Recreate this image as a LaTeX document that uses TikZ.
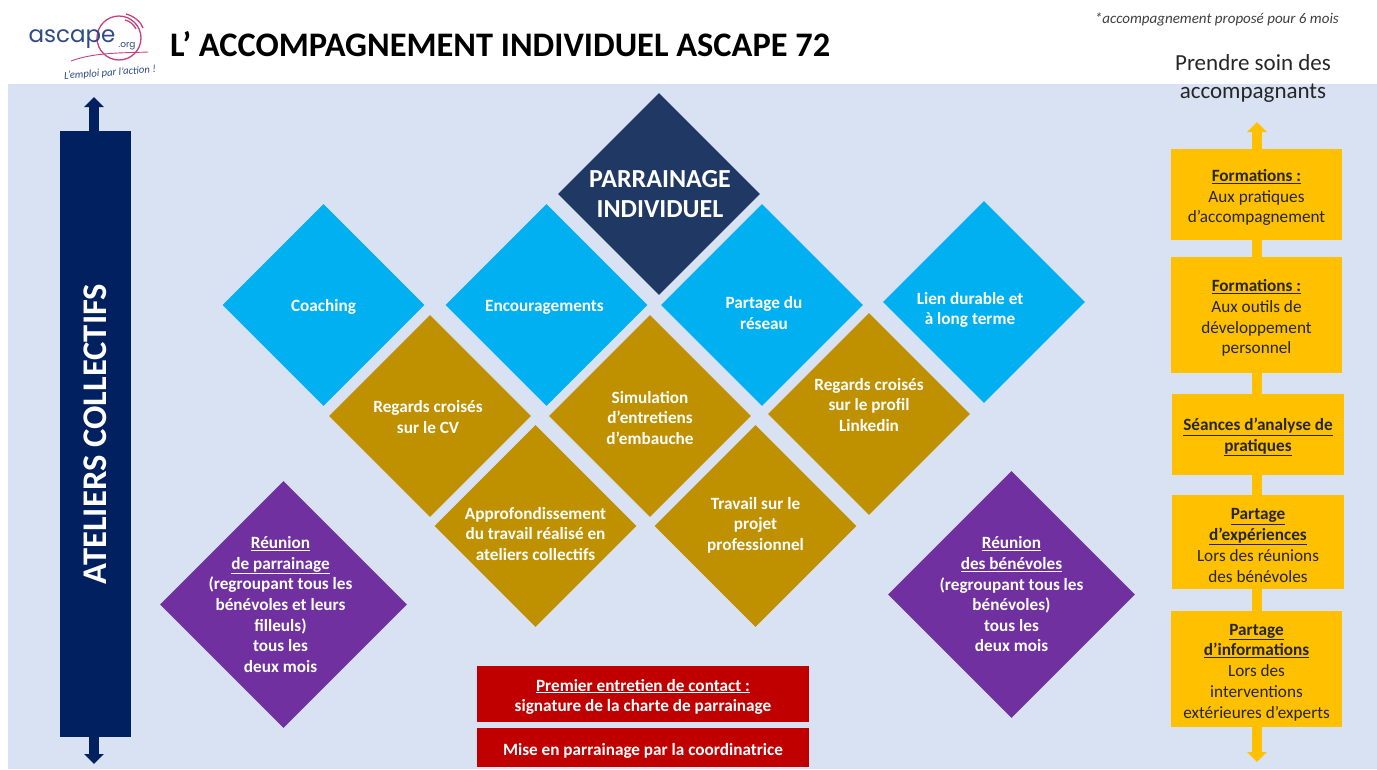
\documentclass[tikz,border=0pt]{standalone}
\usepackage{fontspec}
\setmainfont{Carlito}
\newfontfamily\logofont{Poppins}
\usetikzlibrary{arrows.meta,shapes.geometric}
\definecolor{bgblue}{HTML}{D9E2F3}
\definecolor{navybar}{HTML}{002060}
\definecolor{navydia}{HTML}{1F3864}
\definecolor{cyandia}{HTML}{00B0F0}
\definecolor{golddia}{HTML}{BF9000}
\definecolor{purpledia}{HTML}{7030A0}
\definecolor{redbox}{HTML}{C00000}
\definecolor{yellowbox}{HTML}{FFC000}
\definecolor{logoblue}{HTML}{2F4B85}
\definecolor{logopink}{HTML}{C8417F}
\newcommand{\topgap}{\rule{0pt}{18pt}}
\tikzset{
  x=1pt,y=-1pt,
  basefont/.style={font=\fontsize{17.2}{20.8}\selectfont},
  diabase/.style={diamond,inner sep=0pt,minimum width=202pt,minimum height=202pt,aspect=1},
  lab/.style={align=center,text=white,inner sep=0pt,font=\fontsize{17.2}{20.6}\selectfont\bfseries},
  biglab/.style={align=center,text=white,inner sep=0pt,font=\fontsize{26}{30}\selectfont\bfseries},
  cyanD/.style={diabase,fill=cyandia},
  goldD/.style={diabase,fill=golddia},
  purpleD/.style={diabase,fill=purpledia,minimum width=247pt,minimum height=247pt},
  navyD/.style={diabase,fill=navydia},
  ybox/.style={rectangle,fill=yellowbox,inner sep=0pt,align=center,text=black!85,minimum width=171pt,basefont},
  rbox/.style={rectangle,fill=redbox,inner sep=0pt,align=center,text=white,minimum width=332pt,font=\fontsize{17.2}{20.8}\selectfont\bfseries},
  navyshaft/.style={line width=10pt,draw=navybar,-{Triangle[width=19pt,length=10pt]}},
  yshaft/.style={line width=10pt,draw=yellowbox},
  yarrow/.style={yshaft,-{Triangle[width=19pt,length=10pt]}},
}
\newcommand{\dianode}[6]{\node[#2,label={[lab,xshift=#4pt,yshift=#5pt]center:{#6}}] (#1) at (#3) {};}
\begin{document}
\begin{tikzpicture}
\useasboundingbox (0,0) rectangle (1377,769);
\fill[white] (0,0) rectangle (1377,769);
\fill[bgblue] (8,84) rectangle (1377,769);

% logo
\draw[logopink,line width=1.3pt] (119,38) circle[radius=22pt];
\draw[logopink,line width=1.3pt] (126,14) .. controls (134,16) and (141,22) .. (143,28);
\draw[logopink,line width=1.3pt] (125,20) .. controls (130,21) and (134,25) .. (136,29);
\draw[logopink,line width=0.9pt] (71,61) .. controls (95,52) and (125,53) .. (148,52);
\node[text=logoblue,inner sep=0pt,font=\logofont\fontsize{23}{23}\selectfont] (logoname) at (72,39) {ascape};
\node[text=logoblue,inner sep=0pt,font=\logofont\fontsize{9}{9}\selectfont] (logoorg) at (127,46) {.org};
\node[text=logoblue,inner sep=0pt,rotate=4,font=\itshape\fontsize{10.7}{11}\selectfont] (logotag) at (110,73) {L’emploi par l’action !};

% header
\node[anchor=west,inner sep=0pt,text=black,font=\bfseries\fontsize{34.4}{35}\selectfont] (title) at (170,44) {L’ ACCOMPAGNEMENT INDIVIDUEL ASCAPE 72};
\node[anchor=east,inner sep=0pt,text=black!75,font=\itshape\fontsize{15}{15}\selectfont] (note) at (1339,19) {*accompagnement proposé pour 6 mois};
\node[inner sep=0pt,align=center,text=black!85,font=\fontsize{23}{28}\selectfont] (care) at (1253,78) {Prendre soin des\\accompagnants};

% left bar
\coordinate (bartop) at (94,97);
\coordinate (barbot) at (94,764);
\node[rectangle,fill=navybar,inner sep=0pt,minimum width=71pt,minimum height=606pt] (bar) at (95.5,434) {};
\node[rotate=90,inner sep=0pt,text=white,font=\bfseries\fontsize{34.6}{35}\selectfont] (barlabel) at (95,434) {ATELIERS COLLECTIFS};
\draw[navyshaft] (bar.north -| bartop) -- (bartop);
\draw[navyshaft] (bar.south -| barbot) -- (barbot);

% diamonds
\dianode{coach}{cyanD}{323.5,305}{0}{-2}{Coaching}
\dianode{encour}{cyanD}{546.5,305}{-2}{-2}{Encouragements}
\dianode{partage}{cyanD}{762,305}{2}{-8}{Partage du\\réseau}
\dianode{lien}{cyanD}{984,302}{-14}{-8}{Lien durable et\\à long terme}
\dianode{cv}{goldD}{430,416}{-2}{-1}{Regards croisés\\sur le CV}
\dianode{simul}{goldD}{650,416}{0}{-2}{Simulation\\d’entretiens\\d’embauche}
\dianode{linkedin}{goldD}{869,414}{0}{9}{Regards croisés\\sur le profil\\Linkedin}
\dianode{appro}{goldD}{535.5,526}{0}{-8}{Approfondissement\\du travail réalisé en\\ateliers collectifs}
\dianode{travail}{goldD}{755.5,526}{0}{1}{Travail sur le\\projet\\professionnel}
\node[navyD,label={[biglab,xshift=1pt,yshift=0pt]center:{PARRAINAGE\\INDIVIDUEL}}] (parrain) at (659,194) {};
\dianode{reunp}{purpleD}{283.5,604.5}{-3}{0}{\underline{Réunion}\\\underline{de parrainage}\\(regroupant tous les\\bénévoles et leurs\\filleuls)\\tous les\\deux mois}
\dianode{reunb}{purpleD}{1011.5,594.5}{0}{0}{\underline{Réunion}\\\underline{des bénévoles}\\(regroupant tous les\\bénévoles)\\tous les\\deux mois}

% red boxes
\node[rbox,minimum height=56pt] (contact) at (643,694) {\topgap\underline{Premier entretien de contact :}\\signature de la charte de parrainage};
\node[rbox,minimum height=39pt] (mise) at (643,747.5) {\topgap Mise en parrainage par la coordinatrice};

% right column
\coordinate (ytop) at (1257,122);
\coordinate (ybot) at (1257,762);
\node[ybox,minimum height=91pt] (y1) at (1256.5,194.5) {\topgap\underline{\textbf{Formations :}}\\Aux pratiques\\d’accompagnement};
\node[ybox,minimum height=116pt] (y2) at (1256.5,315) {\topgap\underline{\textbf{Formations :}}\\Aux outils de\\développement\\personnel};
\node[ybox,minimum width=172pt,minimum height=81pt] (y3) at (1258,434.5) {\topgap\underline{\textbf{Séances d’analyse de}}\\\underline{\textbf{pratiques}}};
\node[ybox,minimum width=172pt,minimum height=94pt] (y4) at (1258,542) {\topgap\underline{\textbf{Partage}}\\\underline{\textbf{d’expériences}}\\Lors des réunions\\des bénévoles};
\node[ybox,minimum height=116pt] (y5) at (1256.5,669) {\topgap\underline{\textbf{Partage}}\\\underline{\textbf{d’informations}}\\Lors des\\interventions\\extérieures d’experts};
\draw[yarrow] (y1.north -| ytop) -- (ytop);
\draw[yshaft] (y1.south -| ytop) -- (y2.north -| ytop);
\draw[yshaft] (y2.south -| ytop) -- (y3.north -| ytop);
\draw[yshaft] (y3.south -| ytop) -- (y4.north -| ytop);
\draw[yshaft] (y4.south -| ytop) -- (y5.north -| ytop);
\draw[yarrow] (y5.south -| ybot) -- (ybot);
\end{tikzpicture}
\end{document}
